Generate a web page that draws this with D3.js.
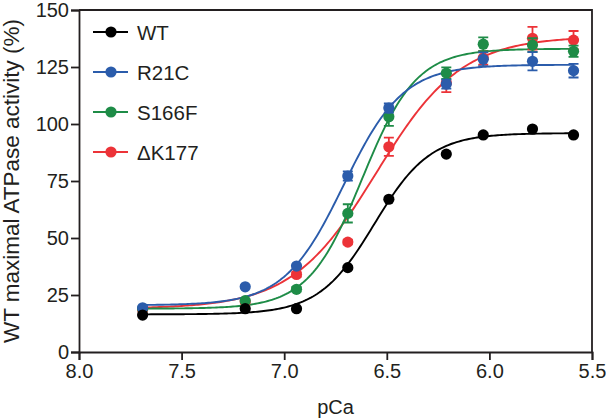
<!DOCTYPE html>
<html>
<head>
<meta charset="utf-8">
<script src="https://cdn.jsdelivr.net/npm/d3@7"></script>
<style>
  html, body { margin: 0; padding: 0; background: #fff; }
  svg { display: block; }
  text { font-family: "Liberation Sans", Arial, Helvetica, sans-serif; fill: #231f20; }
</style>
</head>
<body>
<svg id="chart" width="606" height="419"></svg>
<script>
// ---- data ----
const pCa = [7.69, 7.19, 6.94, 6.69, 6.49, 6.21, 6.03, 5.79, 5.59];
const seriesNames = ["WT", "R21C", "S166F", "\u0394K177"];
const seriesColors = ["#000000", "#2b5cab", "#1e8c47", "#ec3338"];
const wtValues    = [16.2, 19.0, 19.0, 37.0, 67.0, 86.8, 95.2, 97.8, 95.2];
const r21cValues  = [19.4, 28.6, 37.7, 77.2, 107.0, 117.5, 128.4, 127.5, 123.4];
const s166fValues = [19.0, 22.5, 27.5, 60.8, 103.2, 122.3, 135.0, 134.6, 131.9];
const dk177Values = [18.5, 22.0, 34.0, 48.2, 90.0, 118.0, 129.0, 137.6, 136.8];
const wtErr    = [0, 0, 0, 0, 0, 0, 0, 0, 0];
const r21cErr  = [0.5, 0.5, 0.5, 2.0, 2.0, 2.0, 3.0, 4.0, 3.0];
const s166fErr = [0.5, 0.5, 1.0, 4.0, 4.0, 2.5, 3.0, 3.0, 2.5];
const dk177Err = [0.5, 0.5, 1.0, 1.0, 4.0, 4.0, 3.0, 5.0, 4.0];
// Hill fit parameters per series: [bottom, top, pCa50, nH]
const wtFit    = [16.5, 96.0, 6.56, 3.2];
const r21cFit  = [20.5, 126.0, 6.71, 3.0];
const s166fFit = [19.0, 133.0, 6.62, 3.3];
const dk177Fit = [19.0, 138.5, 6.55, 2.1];
const xTicks = [8.0, 7.5, 7.0, 6.5, 6.0, 5.5];
const yTicks = [0, 25, 50, 75, 100, 125, 150];

const series = [
  {name: seriesNames[0], color: seriesColors[0], v: wtValues,    e: wtErr,    fit: wtFit},
  {name: seriesNames[1], color: seriesColors[1], v: r21cValues,  e: r21cErr,  fit: r21cFit},
  {name: seriesNames[2], color: seriesColors[2], v: s166fValues, e: s166fErr, fit: s166fFit},
  {name: seriesNames[3], color: seriesColors[3], v: dk177Values, e: dk177Err, fit: dk177Fit}
];

const svg = d3.select("#chart");
const x = d3.scaleLinear().domain([8.0, 5.5]).range([79, 592]);
const y = d3.scaleLinear().domain([0, 150]).range([352, 10]);

// frame (top & right)
svg.append("path")
  .attr("d", `M${x(8.0)},${y(150)}H${x(5.5)}V${y(0)}`)
  .attr("fill", "none").attr("stroke", "#231f20").attr("stroke-width", 1.8);

// axes
const xAxis = svg.append("g").attr("transform", `translate(0,${y(0)})`)
  .call(d3.axisBottom(x).tickValues(xTicks).tickFormat(d3.format(".1f")).tickSize(8).tickPadding(2));
const yAxis = svg.append("g").attr("transform", `translate(${x(8.0)},0)`)
  .call(d3.axisLeft(y).tickValues(yTicks).tickSize(8).tickPadding(2));
[xAxis, yAxis].forEach(g => {
  g.select(".domain").attr("stroke", "#231f20").attr("stroke-width", 1.8);
  g.selectAll(".tick line").attr("stroke", "#231f20").attr("stroke-width", 1.8);
  g.selectAll(".tick text").attr("font-size", 20).attr("fill", "#231f20")
    .style("font-family", '"Liberation Sans", Arial, sans-serif');
});
xAxis.selectAll(".tick text").attr("dy", "0.78em");

// axis titles
svg.append("text").attr("x", (x(8.0) + x(5.5)) / 2).attr("y", 414)
  .attr("text-anchor", "middle").attr("font-size", 20).text("pCa");
svg.append("text")
  .attr("transform", `translate(19,${(y(0)+y(150))/2}) rotate(-90)`)
  .attr("text-anchor", "middle").attr("font-size", 22.5)
  .text("WT maximal ATPase activity (%)");

// fitted curves
const hill = (p, f) => f[0] + (f[1] - f[0]) / (1 + Math.pow(10, f[3] * (p - f[2])));
const curveX = d3.range(pCa[0], pCa[pCa.length - 1] - 0.001, -0.01);
const line = d3.line().x(d => x(d[0])).y(d => y(d[1])).curve(d3.curveLinear);

const drawOrder = [3, 2, 1, 0];
drawOrder.forEach(i => {
  const s = series[i];
  svg.append("path")
    .datum(curveX.map(p => [p, hill(p, s.fit)]))
    .attr("d", line).attr("fill", "none")
    .attr("stroke", s.color).attr("stroke-width", 1.9);
});

drawOrder.forEach(i => {
  const s = series[i];
  const g = svg.append("g");
  pCa.forEach((p, j) => {
    const e = s.e[j];
    if (e > 0.8) {
      const cx = x(p), y1 = y(s.v[j] + e), y2 = y(s.v[j] - e);
      g.append("path")
        .attr("d", `M${cx},${y1}V${y2}M${cx-5},${y1}H${cx+5}M${cx-5},${y2}H${cx+5}`)
        .attr("stroke", s.color).attr("stroke-width", 1.8).attr("fill", "none");
    }
  });
  g.selectAll("circle").data(pCa).join("circle")
    .attr("cx", d => x(d)).attr("cy", (d, j) => y(s.v[j]))
    .attr("r", 5.6).attr("fill", s.color);
});

// legend
const legY = [32, 72, 112, 152];
series.forEach((s, i) => {
  const g = svg.append("g").attr("transform", `translate(0,${legY[i]})`);
  g.append("line").attr("x1", 93).attr("x2", 128).attr("y1", 0).attr("y2", 0)
    .attr("stroke", s.color).attr("stroke-width", 1.9);
  g.append("circle").attr("cx", 111).attr("cy", 0).attr("r", 5.6).attr("fill", s.color);
  g.append("text").attr("x", 137).attr("y", 7.5).attr("font-size", 20.5).text(s.name);
});
</script>
</body>
</html>
